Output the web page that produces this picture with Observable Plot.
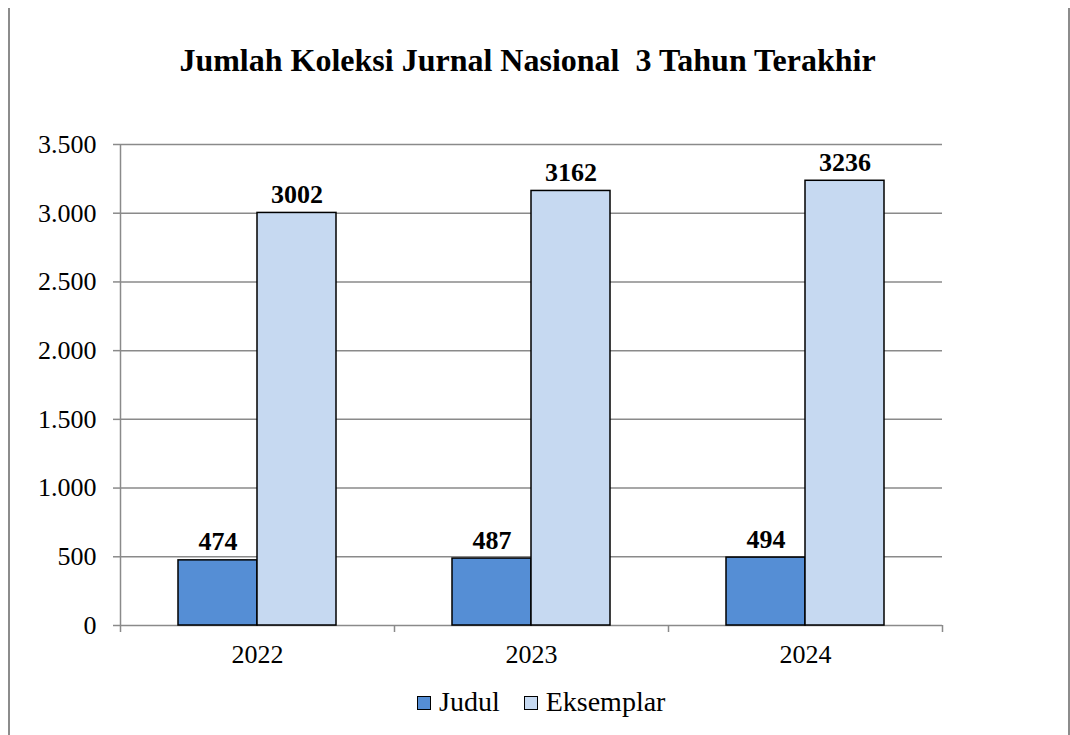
<!DOCTYPE html>
<html>
<head>
<meta charset="utf-8">
<script src="https://cdn.jsdelivr.net/npm/d3@7"></script>
<script src="https://cdn.jsdelivr.net/npm/@observablehq/plot@0.6"></script>
<style>
  html, body { margin: 0; padding: 0; background: #fff; }
  #wrap { position: relative; width: 1070px; height: 735px; overflow: hidden; font-family: "Liberation Serif", "Times New Roman", serif; }
  #title { position: absolute; left: 0; width: 1055px; top: 42px; text-align: center; font-weight: bold; font-size: 32px; line-height: 36px; color: #000; white-space: pre; }
  #legend { position: absolute; left: 417px; top: 686px; font-size: 28px; line-height: 32px; color: #000; display: flex; align-items: center; }
  .sw { display: inline-block; width: 12px; height: 12px; border: 1.5px solid #000; margin-right: 8px; position: relative; top: 1px; }
  .item { display: inline-flex; align-items: center; margin-right: 24px; }
  .bl { position: absolute; top: 8px; bottom: 0; width: 0; border-left: 2px solid #8c8c8c; }
  #chart { position: absolute; left: 0; top: 0; }
</style>
</head>
<body>
<div id="wrap">
  <div class="bl" style="left:8px"></div>
  <div class="bl" style="left:1068px"></div>
  <div id="chart"></div>
  <div id="title"></div>
  <div id="legend"></div>
</div>
<script>
const titleText = "Jumlah Koleksi Jurnal Nasional  3 Tahun Terakhir";
const years = ["2022", "2023", "2024"];
const seriesNames = ["Judul", "Eksemplar"];
const judul = [474, 487, 494];
const eksemplar = [3002, 3162, 3236];
const yTicks = [0, 500, 1000, 1500, 2000, 2500, 3000, 3500];
const yTickLabels = ["0", "500", "1.000", "1.500", "2.000", "2.500", "3.000", "3.500"];
const colors = ["#558ED5", "#C6D9F1"];

const judulRows = years.map((y, i) => ({year: y, i, value: judul[i]}));
const eksRows = years.map((y, i) => ({year: y, i, value: eksemplar[i]}));
const gray = "#8a8a8a";

document.getElementById("title").textContent = titleText;
document.getElementById("legend").innerHTML = seriesNames.map((s, k) =>
  `<span class="item"><span class="sw" style="background:${colors[k]}"></span>${s}</span>`).join("");

const chart = Plot.plot({
  width: 1070,
  height: 735,
  marginLeft: 120,
  marginRight: 128,
  marginTop: 144,
  marginBottom: 110,
  style: {fontFamily: "'Liberation Serif', 'Times New Roman', serif", background: "transparent"},
  x: {domain: [0, years.length], axis: null},
  y: {domain: [0, 3500], axis: null},
  marks: [
    Plot.ruleY(yTicks, {stroke: gray, strokeWidth: 1.5}),
    Plot.axisY({ticks: yTicks, tickFormat: d => yTickLabels[yTicks.indexOf(d)], tickSize: 7, tickPadding: 17,
      stroke: gray, strokeWidth: 1.5, fill: "#000", fontSize: 26, label: null}),
    Plot.ruleX([0], {stroke: gray, strokeWidth: 1.5}),
    Plot.axisX({ticks: d3.range(years.length + 1), tickFormat: () => "", tickSize: 7, stroke: gray, strokeWidth: 1.5, label: null}),
    Plot.axisX({ticks: years.map((y, i) => i + 0.5), tickFormat: d => years[Math.floor(d)], tickSize: 0, tickPadding: 19,
      fill: "#000", fontSize: 26, label: null}),
    Plot.rectY(judulRows, {x1: "i", x2: d => d.i + 1, y1: 0, y2: "value", insetLeft: 58, insetRight: 137,
      fill: colors[0], stroke: "#000", strokeWidth: 1.5}),
    Plot.rectY(eksRows, {x1: "i", x2: d => d.i + 1, y1: 0, y2: "value", insetLeft: 137, insetRight: 58,
      fill: colors[1], stroke: "#000", strokeWidth: 1.5}),
    Plot.text(judulRows, {x: d => d.i + 0.5, y: "value", text: d => String(d.value), dx: -39.5, dy: -10,
      lineAnchor: "bottom", fontWeight: "bold", fontSize: 26, fill: "#000"}),
    Plot.text(eksRows, {x: d => d.i + 0.5, y: "value", text: d => String(d.value), dx: 39.5, dy: -10,
      lineAnchor: "bottom", fontWeight: "bold", fontSize: 26, fill: "#000"})
  ]
});
document.getElementById("chart").appendChild(chart);
</script>
</body>
</html>
